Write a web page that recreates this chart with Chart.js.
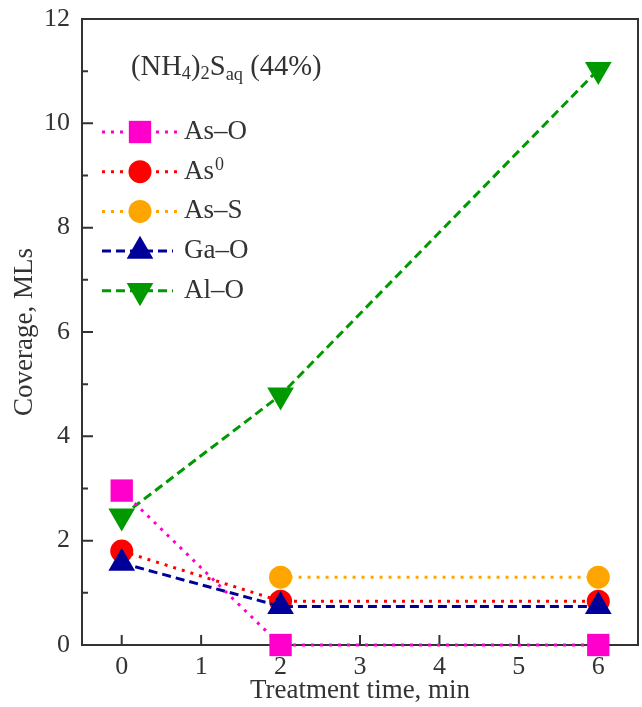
<!DOCTYPE html>
<html>
<head>
<meta charset="utf-8">
<script src="https://cdn.jsdelivr.net/npm/chart.js@4"></script>
<style>
  html, body { margin: 0; padding: 0; background: #fff; overflow: hidden; }
  #wrap { width: 642px; height: 707px; position: relative; overflow: hidden; }
  canvas { display: block; }
</style>
</head>
<body>
<div id="wrap"><canvas id="c"></canvas></div>
<script>
// ---- data ----
const times = [0, 2, 6];
const seriesNames = ['As–O', 'As0', 'As–S', 'Ga–O', 'Al–O'];
const asO  = [2.96, 0, 0];
const as0  = [1.80, 0.84, 0.84];
const asS  = [null, 1.30, 1.30];
const gaO  = [1.57, 0.74, 0.74];
const alO  = [2.47, 4.79, 11.03];
const xTickValues = [0, 1, 2, 3, 4, 5, 6];
const yTickValues = [0, 2, 4, 6, 8, 10, 12];
const yMinorTicks = [1, 3, 5, 7, 9, 11];
const xTitle = 'Treatment time, min';
const yTitle = 'Coverage, MLs';

const SERIF = '"Liberation Serif", "Times New Roman", serif';
const INK = '#333333';

function pts(vals) { return times.map((t, i) => ({ x: t, y: vals[i] })); }

const styles = [
  { color: '#FF00CC', dash: [3, 6], pointStyle: 'rect', radius: 15.8, rotation: 0, order: 0 },
  { color: '#FF0000', dash: [3, 6], pointStyle: 'circle', radius: 11.5, rotation: 0, order: 2 },
  { color: '#FFA500', dash: [3, 6], pointStyle: 'circle', radius: 11.5, rotation: 0, order: 3 },
  { color: '#000099', dash: [9, 5], pointStyle: 'triangle', radius: 15.4, rotation: 0, order: 1 },
  { color: '#009900', dash: [9, 5], pointStyle: 'triangle', radius: 15.4, rotation: 180, order: 4 }
];
const values = [asO, as0, asS, gaO, alO];

const datasets = values.map((v, i) => ({
  label: seriesNames[i],
  data: pts(v),
  borderColor: styles[i].color,
  backgroundColor: styles[i].color,
  borderWidth: 3,
  borderDash: styles[i].dash,
  pointStyle: styles[i].pointStyle,
  pointRadius: styles[i].radius,
  pointRotation: styles[i].rotation,
  pointBorderWidth: 0,
  pointBackgroundColor: styles[i].color,
  pointHoverRadius: styles[i].radius,
  order: styles[i].order,
  clip: false,
  fill: false,
  tension: 0
}));

// frame + inward ticks (under datasets)
const framePlugin = {
  id: 'frame',
  beforeDatasetsDraw(chart) {
    const { ctx, chartArea: a, scales: { x, y } } = chart;
    ctx.save();
    ctx.strokeStyle = INK;
    ctx.lineWidth = 2;
    ctx.strokeRect(a.left, a.top, a.right - a.left, a.bottom - a.top);
    ctx.beginPath();
    yTickValues.forEach(v => { const p = y.getPixelForValue(v); ctx.moveTo(a.left, p); ctx.lineTo(a.left + 11, p); });
    yMinorTicks.forEach(v => { const p = y.getPixelForValue(v); ctx.moveTo(a.left, p); ctx.lineTo(a.left + 6, p); });
    xTickValues.forEach(v => { const p = x.getPixelForValue(v); ctx.moveTo(p, a.bottom); ctx.lineTo(p, a.bottom - 10); });
    ctx.stroke();
    ctx.restore();
  }
};

// legend + annotation
const legendPlugin = {
  id: 'customLegend',
  afterDraw(chart) {
    const { ctx, chartArea: a } = chart;
    ctx.save();
    // annotation (NH4)2Saq (44%)
    const big = 28.6, small = 18.4;
    let x = a.left + 49;
    const base = 75;
    ctx.fillStyle = INK;
    ctx.textBaseline = 'alphabetic';
    ctx.textAlign = 'left';
    const parts = [
      ['(NH', big, 0], ['4', small, 4], [')', big, 0], ['2', small, 4], ['S', big, 0], ['aq', small, 5], [' (44%)', big, 0]
    ];
    parts.forEach(([t, s, dy]) => {
      ctx.font = s + 'px ' + SERIF;
      ctx.fillText(t, x, base + dy);
      x += ctx.measureText(t).width;
    });

    // legend rows
    const rowY0 = 132, rowStep = 39.7;
    chart.data.datasets.forEach((ds, i) => {
      const yy = rowY0 + i * rowStep;
      const dotted = ds.borderDash[0] < 5;
      const x0 = a.left + 20, x1 = dotted ? a.left + 96 : a.left + 91;
      ctx.save();
      ctx.strokeStyle = ds.borderColor;
      ctx.lineWidth = 3;
      ctx.setLineDash(ds.borderDash);
      ctx.beginPath();
      ctx.moveTo(x0, yy);
      ctx.lineTo(x1, yy);
      ctx.stroke();
      ctx.restore();
      ctx.fillStyle = ds.backgroundColor;
      Chart.helpers.drawPoint(ctx, {
        pointStyle: ds.pointStyle, radius: ds.pointRadius, rotation: ds.pointRotation, borderWidth: 0
      }, a.left + 58, yy);
      ctx.fillStyle = INK;
      ctx.textBaseline = 'middle';
      ctx.font = '27px ' + SERIF;
      const lx = a.left + 102;
      if (ds.label === 'As0') {
        ctx.fillText('As', lx, yy);
        const w = ctx.measureText('As').width;
        ctx.font = '18px ' + SERIF;
        ctx.fillText('0', lx + w + 1, yy - 6);
      } else {
        ctx.fillText(ds.label, lx, yy);
      }
    });
    ctx.restore();
  }
};

new Chart(document.getElementById('c'), {
  type: 'line',
  data: { datasets },
  options: {
    responsive: true,
    maintainAspectRatio: false,
    animation: false,
    layout: { autoPadding: false, padding: { left: 0, right: 4, top: 19, bottom: 0 } },
    plugins: { legend: { display: false }, tooltip: { enabled: false } },
    scales: {
      x: {
        type: 'linear',
        min: -0.5, max: 6.5,
        grid: { display: false, drawTicks: false },
        border: { display: false },
        afterBuildTicks: s => { s.ticks = xTickValues.map(v => ({ value: v })); },
        afterFit: s => { s.height = 62; s.paddingLeft = 0; s.paddingRight = 0; },
        ticks: { color: INK, font: { family: SERIF, size: 26 }, padding: 7, maxRotation: 0 },
        title: { display: true, text: xTitle, color: INK, font: { family: SERIF, size: 27 }, padding: { top: -5, bottom: 0 } }
      },
      y: {
        min: 0, max: 12,
        grid: { display: false, drawTicks: false },
        border: { display: false },
        afterBuildTicks: s => { s.ticks = yTickValues.map(v => ({ value: v })); },
        afterFit: s => { s.width = 82; s.paddingTop = 0; s.paddingBottom = 0; },
        ticks: { color: INK, font: { family: SERIF, size: 26 }, padding: 12 },
        title: { display: true, text: yTitle, color: INK, font: { family: SERIF, size: 27 }, padding: { top: 9, bottom: 0 } }
      }
    }
  },
  plugins: [framePlugin, legendPlugin]
});
</script>
</body>
</html>
